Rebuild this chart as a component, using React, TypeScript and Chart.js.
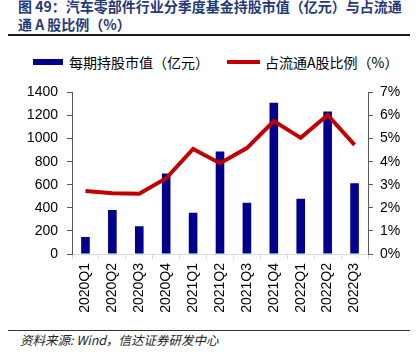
import React, { useEffect, useRef } from "react";
import { Chart, registerables } from "chart.js";

Chart.register(...registerables);

const categories = ["2020Q1", "2020Q2", "2020Q3", "2020Q4", "2021Q1", "2021Q2", "2021Q3", "2021Q4", "2022Q1", "2022Q2", "2022Q3"];
const holdingValue = [148, 382, 240, 697, 357, 888, 445, 1311, 478, 1234, 612];
const floatRatio = [2.73, 2.63, 2.61, 3.28, 4.55, 3.93, 4.59, 5.76, 5.03, 6.02, 4.73];
const leftTicks = [0, 200, 400, 600, 800, 1000, 1200, 1400];
const barLabel = "每期持股市值（亿元）";
const lineLabel = "占流通A股比例（%）";
const titleLines = ["图 49：汽车零部件行业分季度基金持股市值（亿元）与占流通", "通 A 股比例（%）"];
const sourceText = "资料来源: Wind，信达证券研发中心";

const BAR_COLOR = "#00008C";
const LINE_COLOR = "#C00000";
const FONT = "'Liberation Sans', Arial, sans-serif";
const CJK = "'Noto Sans CJK SC', 'Liberation Sans', sans-serif";

export default function App() {
  const ref = useRef<HTMLCanvasElement | null>(null);

  useEffect(() => {
    if (!ref.current) return;
    const chart = new Chart(ref.current, {
      data: {
        labels: categories,
        datasets: [
          {
            type: "line",
            label: lineLabel,
            data: floatRatio,
            yAxisID: "y1",
            borderColor: LINE_COLOR,
            backgroundColor: LINE_COLOR,
            borderWidth: 4,
            pointRadius: 0,
            tension: 0,
            order: 0,
          },
          {
            type: "bar",
            label: barLabel,
            data: holdingValue,
            yAxisID: "y",
            backgroundColor: BAR_COLOR,
            barPercentage: 0.32,
            categoryPercentage: 1,
            order: 1,
          },
        ],
      },
      options: {
        animation: false,
        responsive: false,
        maintainAspectRatio: false,
        layout: { padding: { top: 10, left: 0, right: 0, bottom: 0 } },
        plugins: { legend: { display: false }, tooltip: { enabled: false } },
        scales: {
          x: {
            offset: true,
            grid: { offset: true, drawOnChartArea: false, drawTicks: true, tickLength: 5, color: "#D9D9D9" },
            border: { color: "#D9D9D9", width: 1 },
            ticks: { minRotation: 90, maxRotation: 90, autoSkip: false, padding: 4, color: "#000", font: { family: FONT, size: 14 } },
            afterFit: (s: any) => { s.height = 76; },
          },
          y: {
            position: "left",
            min: 0,
            max: 1400,
            afterBuildTicks: (s: any) => { s.ticks = leftTicks.map((v) => ({ value: v })); },
            grid: { drawOnChartArea: false, drawTicks: true, tickLength: 5, color: "#595959" },
            border: { color: "#595959", width: 1 },
            ticks: { padding: 9, color: "#000", font: { family: FONT, size: 14 }, callback: (v: any) => String(v) },
            afterFit: (s: any) => { s.width = 72; },
          },
          y1: {
            position: "right",
            min: 0,
            max: 7,
            grid: { drawOnChartArea: false, drawTicks: true, tickLength: 5, color: "#595959" },
            border: { color: "#595959", width: 1 },
            ticks: { stepSize: 1, padding: 7, color: "#000", font: { family: FONT, size: 14 }, callback: (v: any) => `${v}%` },
            afterFit: (s: any) => { s.width = 51; },
          },
        },
      },
    } as any);
    return () => chart.destroy();
  }, []);

  return (
    <div style={{ position: "fixed", left: 0, top: 0, width: 419, height: 358, background: "#fff", overflow: "hidden" }}>
      <div style={{ position: "absolute", left: 18, top: -3, fontFamily: CJK, fontWeight: "bold", fontSize: 14, lineHeight: "18px", color: "#1F3A78", whiteSpace: "nowrap" }}>
        <div>{titleLines[0]}</div>
        <div>{titleLines[1]}</div>
      </div>
      <div style={{ position: "absolute", left: 8, top: 34, width: 402, height: 2, background: "#1a1a1a" }} />
      <div style={{ position: "absolute", left: 33, top: 59, width: 30, height: 6, background: BAR_COLOR }} />
      <div style={{ position: "absolute", left: 69, top: 52, fontFamily: CJK, fontSize: 14, lineHeight: "20px", color: "#000", whiteSpace: "nowrap" }}>{barLabel}</div>
      <div style={{ position: "absolute", left: 227, top: 60, width: 33, height: 4, background: LINE_COLOR }} />
      <div style={{ position: "absolute", left: 265, top: 52, fontFamily: CJK, fontSize: 14, lineHeight: "20px", color: "#000", whiteSpace: "nowrap" }}>{lineLabel}</div>
      <canvas ref={ref} width={419} height={255} style={{ position: "absolute", left: 0, top: 75, width: 419, height: 255 }} />
      <div style={{ position: "absolute", left: 8, top: 330, width: 402, height: 1, background: "#333333" }} />
      <div style={{ position: "absolute", left: 20, top: 331, fontFamily: CJK, fontStyle: "italic", fontSize: 12.5, lineHeight: "18px", color: "#222", whiteSpace: "nowrap" }}>{sourceText}</div>
    </div>
  );
}
